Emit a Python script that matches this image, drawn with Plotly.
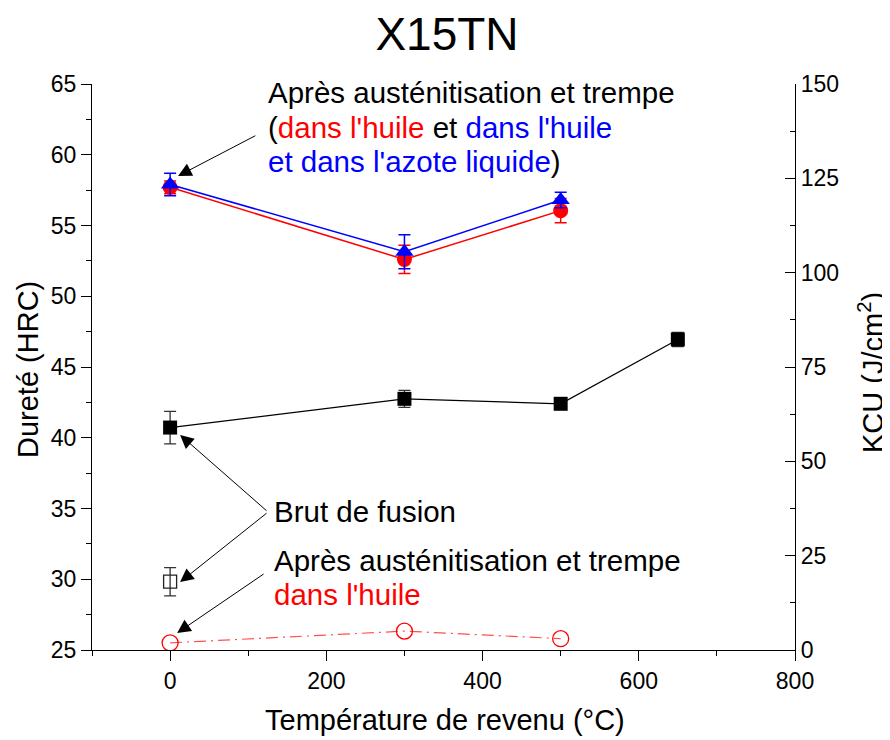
import plotly.graph_objects as go

# ---- data ----
temp_q = [0, 300, 500]
hrc_oil = [57.7, 52.6, 56.05]
hrc_oil_err = [0.45, 1.0, 0.85]
hrc_n2 = [57.9, 53.15, 56.8]
hrc_n2_err = [0.8, 1.2, 0.55]
kcu_oil = [1.9, 5.0, 3.0]

temp_brut = [0, 300, 500, 650]
hrc_brut = [40.72, 42.75, 42.4, 46.95]
hrc_brut_err = [1.15, 0.6, 0.2, 0.5]
temp_brut_kcu = [0]
kcu_brut = [18.1]
kcu_brut_err = [3.75]

title_text = "X15TN"
x_title = "Température de revenu (°C)"
y_title = "Dureté (HRC)"
y2_title = "KCU (J/cm<sup>2</sup>)"

FONT = "Liberation Sans, Arial, sans-serif"
RED = "#ff0000"
BLUE = "#0000ff"

# plot area (figure px); page body has 8px margin
L, T, PW, PH = 84, 76, 703, 566
W, H = 890, 740

def px(fx):
    return (fx - 8 - L) / PW

def py(fy):
    return 1 - (fy - 8 - T) / PH

fig = go.Figure()

fig.add_trace(go.Scatter(
    x=temp_q, y=kcu_oil, yaxis="y2", mode="lines+markers",
    line=dict(color="#ff5050", width=1.2, dash="12px,5px,2px,5px"),
    marker=dict(symbol="circle-open", size=16, color=RED, line=dict(width=1.3)),
))
fig.add_trace(go.Scatter(
    x=temp_brut_kcu, y=kcu_brut, yaxis="y2", mode="markers",
    marker=dict(symbol="square-open", size=13, color="#222222", line=dict(width=1.3)),
    error_y=dict(type="data", array=kcu_brut_err, color="#333333", thickness=1.3, width=6),
))
fig.add_trace(go.Scatter(
    x=temp_brut, y=hrc_brut, mode="lines+markers",
    line=dict(color="black", width=1.2),
    marker=dict(symbol="square", size=14, color="black"),
    error_y=dict(type="data", array=hrc_brut_err, color="#333333", thickness=1.3, width=6),
))
fig.add_trace(go.Scatter(
    x=temp_q, y=hrc_oil, mode="lines+markers",
    line=dict(color=RED, width=1.5),
    marker=dict(symbol="circle", size=15, color=RED),
    error_y=dict(type="data", array=hrc_oil_err, color=RED, thickness=1.5, width=6),
))
fig.add_trace(go.Scatter(
    x=temp_q, y=hrc_n2, mode="lines+markers",
    line=dict(color=BLUE, width=1.5),
    marker=dict(symbol="triangle-up", size=16, color=BLUE),
    error_y=dict(type="data", array=hrc_n2_err, color=BLUE, thickness=1.5, width=6),
))

AFS = 29.5
annotations = []

def txt(x, y, text, color="black"):
    annotations.append(dict(x=x, y=y, xref="x", yref="y", text=text, showarrow=False,
                            xanchor="left", yanchor="middle",
                            font=dict(family=FONT, size=AFS, color=color)))

def arrow(xh, yh, xt, yt):
    annotations.append(dict(x=xh, y=yh, xref="x", yref="y", ax=xt, ay=yt,
                            axref="x", ayref="y", text="", showarrow=True,
                            arrowhead=2, arrowsize=2.7, arrowwidth=1.0,
                            arrowcolor="black", standoff=0, startstandoff=0))

def paper_txt(fx, fy, text, size, angle=0):
    annotations.append(dict(x=px(fx), y=py(fy), xref="paper", yref="paper", text=text,
                            showarrow=False, xanchor="center", yanchor="middle",
                            textangle=angle, font=dict(family=FONT, size=size, color="black")))

txt(123, 64.43, "Après austénitisation et trempe")
txt(123, 61.96, "(<span style='color:#ff0000'>dans l'huile</span> et <span style='color:#0000ff'>dans l'huile</span>")
txt(123, 59.49, "<span style='color:#0000ff'>et dans l'azote liquide</span>)")
txt(130, 34.77, "Brut de fusion")
txt(131, 31.36, "Après austénitisation et trempe")
txt(131, 28.89, "dans l'huile", RED)

arrow(10.2, 58.5, 111, 61.4)
arrow(12.8, 40.2, 125.4, 34.75)
arrow(12.8, 29.8, 125.4, 34.75)
arrow(9, 26.2, 121.6, 30.44)

paper_txt(445, 720, x_title, 29)
paper_txt(28, 370, y_title, 29, -90)
paper_txt(871, 373, y2_title, 29, -90)

TFS = 23
fig.update_layout(
    width=W, height=H,
    margin=dict(l=L, r=W - L - PW, t=T, b=H - T - PH),
    paper_bgcolor="white", plot_bgcolor="white",
    showlegend=False,
    font=dict(family=FONT, size=TFS, color="black"),
    title=dict(text=title_text, xref="container", yref="container",
               x=(447 - 8) / W, xanchor="center", y=1 - (34 - 8) / H, yanchor="middle",
               font=dict(family=FONT, size=46, color="black")),
    annotations=annotations,
    xaxis=dict(range=[-100, 800], dtick=200, tick0=0, showgrid=False, zeroline=False,
               showline=True, linecolor="black", linewidth=1.3, ticks="outside",
               ticklen=10, tickwidth=1.3, tickcolor="black",
               minor=dict(dtick=100, tick0=0, ticks="outside", ticklen=5, tickwidth=1.2, tickcolor="black"),
               tickfont=dict(family=FONT, size=TFS)),
    yaxis=dict(range=[25, 65], dtick=5, showgrid=False, zeroline=False,
               showline=True, linecolor="black", linewidth=1.3, ticks="outside",
               ticklen=10, tickwidth=1.3, tickcolor="black",
               minor=dict(dtick=2.5, ticks="outside", ticklen=5, tickwidth=1.2, tickcolor="black"),
               tickfont=dict(family=FONT, size=TFS)),
    yaxis2=dict(range=[0, 150], dtick=25, overlaying="y", side="right", showgrid=False,
                zeroline=False, showline=True, linecolor="black", linewidth=1.3,
                ticks="inside", ticklen=10, tickwidth=1.3, tickcolor="black",
                minor=dict(dtick=12.5, ticks="inside", ticklen=5, tickwidth=1.2, tickcolor="black"),
                tickfont=dict(family=FONT, size=TFS)),
)

fig.write_html("out.html")
